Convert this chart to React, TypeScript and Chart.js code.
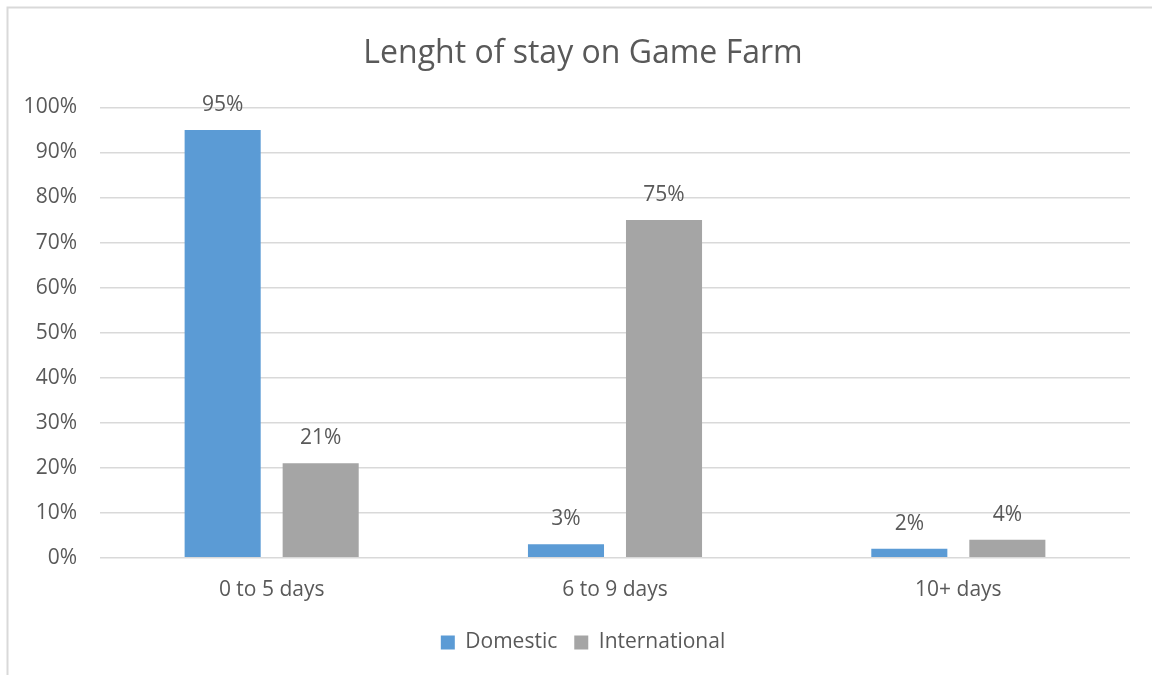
import React, { useEffect, useRef } from "react";
import { Chart, registerables } from "chart.js";

Chart.register(...registerables);

const categories = ["0 to 5 days", "6 to 9 days", "10+ days"];
const domestic = [95, 3, 2];
const international = [21, 75, 4];
const yTicks = [0, 10, 20, 30, 40, 50, 60, 70, 80, 90, 100];
const titleText = "Lenght of stay on Game Farm";

const FONT = "'Open Sans', Lato, sans-serif";
const TEXT = "#595959";
const FS = 21;

const borderPlugin = {
  id: "outerBorder",
  beforeDraw(chart: any) {
    const ctx = chart.ctx;
    ctx.save();
    ctx.fillStyle = "#ffffff";
    ctx.fillRect(0, 0, chart.width, chart.height);
    ctx.strokeStyle = "#D9D9D9";
    ctx.lineWidth = 2;
    ctx.beginPath();
    ctx.moveTo(7.5, chart.height);
    ctx.lineTo(7.5, 7.5);
    ctx.lineTo(chart.width, 7.5);
    ctx.stroke();
    ctx.restore();
  },
};

const labelPlugin = {
  id: "valueLabels",
  afterDatasetsDraw(chart: any) {
    const ctx = chart.ctx;
    ctx.save();
    ctx.font = `${FS}px ${FONT}`;
    ctx.fillStyle = TEXT;
    ctx.textAlign = "center";
    ctx.textBaseline = "middle";
    chart.data.datasets.forEach((ds: any, i: number) => {
      const meta = chart.getDatasetMeta(i);
      meta.data.forEach((bar: any, j: number) => {
        ctx.fillText(`${ds.data[j]}%`, bar.x, bar.y - 25);
      });
    });
    ctx.restore();
  },
};

export default function App() {
  const ref = useRef<HTMLCanvasElement>(null);
  useEffect(() => {
    if (!ref.current) return;
    const chart = new Chart(ref.current, {
      type: "bar",
      data: {
        labels: categories,
        datasets: [
          {
            label: "Domestic",
            data: domestic,
            backgroundColor: "#5B9BD5",
            categoryPercentage: 0.571,
            barPercentage: 0.776,
          },
          {
            label: "International",
            data: international,
            backgroundColor: "#A5A5A5",
            categoryPercentage: 0.571,
            barPercentage: 0.776,
          },
        ],
      },
      options: {
        animation: false,
        responsive: false,
        layout: { padding: { left: 14, right: 0, top: 0, bottom: 12 } },
        plugins: {
          title: {
            display: true,
            text: titleText,
            color: TEXT,
            font: { family: FONT, size: 32, weight: "normal" },
            padding: { top: 35, bottom: 34 },
          },
          legend: {
            position: "bottom",
            labels: {
              color: TEXT,
              font: { family: FONT, size: FS },
              boxWidth: 14,
              boxHeight: 14,
              padding: 17,
            },
          },
          tooltip: { enabled: false },
        },
        scales: {
          x: {
            grid: { display: false },
            border: { display: false },
            ticks: { color: TEXT, font: { family: FONT, size: FS }, padding: 12 },
          },
          y: {
            min: 0,
            max: 100,
            afterBuildTicks(scale: any) {
              scale.ticks = yTicks.map((v) => ({ value: v }));
            },
            afterFit(scale: any) {
              scale.width = 86;
            },
            grid: { color: "#D9D9D9", lineWidth: 1.5, drawTicks: false },
            border: { display: false },
            ticks: {
              color: TEXT,
              font: { family: FONT, size: FS },
              padding: 23,
              callback: (v: any) => `${v}%`,
            },
          },
          yRight: {
            position: "right",
            display: true,
            min: 0,
            max: 100,
            grid: { display: false, drawTicks: false },
            border: { display: false },
            ticks: { display: false },
            afterFit(scale: any) {
              scale.width = 22;
            },
          },
        },
      },
      plugins: [borderPlugin, labelPlugin],
    });
    return () => chart.destroy();
  }, []);
  return (
    <div style={{ position: "fixed", left: 0, top: 0, width: 1152, height: 675 }}>
      <canvas ref={ref} width={1152} height={675} style={{ display: "block" }} />
    </div>
  );
}
